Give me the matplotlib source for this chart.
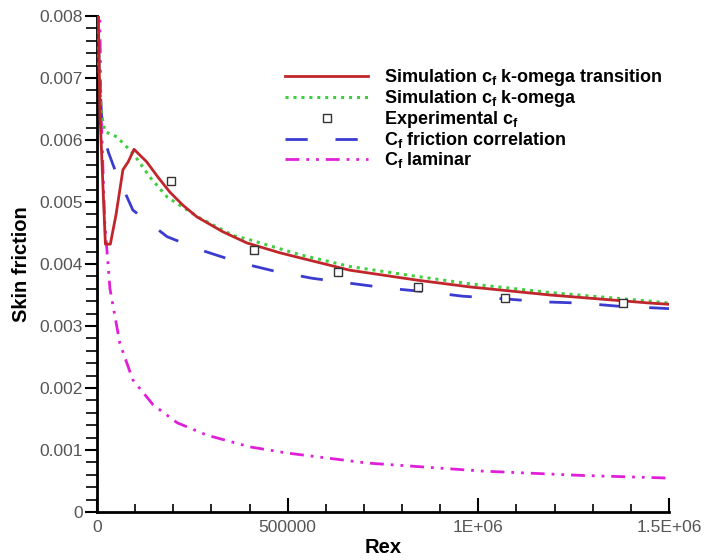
"""
Skin friction vs Rex: transition model, k-omega, experiment, correlations
"""

import matplotlib
matplotlib.use("Agg")
import matplotlib.pyplot as plt
from matplotlib.ticker import MultipleLocator, FixedLocator

plt.rcParams['font.family'] = ['Liberation Sans', 'DejaVu Sans']
plt.rcParams['mathtext.fontset'] = 'custom'
plt.rcParams['mathtext.rm'] = 'Liberation Sans:bold'
plt.rcParams['mathtext.it'] = 'Liberation Sans:bold'

# Simulation cf, k-omega transition
rex_trans = [2000, 8000, 16000, 22000, 35000, 50000, 68000, 82000, 97000, 130000,
             160000, 191000, 225000, 262000, 330000, 393000, 480000, 532000, 663000,
             839000, 978000, 1188000, 1450000, 1500000]
cf_trans = [0.0085, 0.0064, 0.0052, 0.00432, 0.00432, 0.0048, 0.00552, 0.00565, 0.00585,
            0.00565, 0.0054, 0.00516, 0.00495, 0.00476, 0.00452, 0.00434, 0.00418, 0.0041,
            0.0039, 0.00374, 0.00363, 0.0035, 0.00337, 0.00335]

# Simulation cf, k-omega
rex_kw = [1000, 5000, 12000, 21000, 35000, 52000, 94000, 139000, 184000, 270000, 357000,
          401000, 532000, 663000, 839000, 978000, 1188000, 1450000, 1500000]
cf_kw = [0.0095, 0.0072, 0.0064, 0.00613, 0.0061, 0.00605, 0.00579, 0.0054, 0.00508,
         0.00474, 0.00446, 0.00439, 0.00415, 0.00396, 0.0038, 0.00368, 0.00354, 0.0034, 0.00337]

# Experimental cf
rex_exp = [194000, 412000, 632000, 842000, 1070000, 1380000]
cf_exp = [0.00534, 0.00423, 0.00387, 0.00363, 0.00345, 0.00337]

# Cf friction correlation
rex_corr = [1000, 5000, 12000, 21000, 30000, 47000, 70000, 94000, 184000, 270000, 375000,
            462000, 564000, 663000, 763000, 865000, 960000, 1065000, 1167000, 1267000,
            1366000, 1469000, 1500000]
cf_corr = [0.0095, 0.0072, 0.0064, 0.0060, 0.0058, 0.00552, 0.0052, 0.00487, 0.00444,
           0.00423, 0.00402, 0.00389, 0.00377, 0.00369, 0.00361, 0.00355, 0.00348, 0.00344,
           0.00339, 0.00337, 0.00332, 0.00329, 0.00328]

# Cf laminar
rex_lam = [500, 2000, 5000, 10000, 20000, 34000, 60000, 94000, 147000, 210000, 288000,
           401000, 500000, 708000, 1010000, 1270000, 1485000, 1500000]
cf_lam = [0.03, 0.0148, 0.0094, 0.0066, 0.0047, 0.0036, 0.00272, 0.00213, 0.00173, 0.00144,
          0.00124, 0.00105, 0.00095, 0.00079, 0.00066, 0.00059, 0.00055, 0.00054]

x_ticks = [0, 500000, 1000000, 1500000]
x_labels = ['0', '500000', '1E+06', '1.5E+06']
y_ticks = [0, 0.001, 0.002, 0.003, 0.004, 0.005, 0.006, 0.007, 0.008]
y_labels = ['0', '0.001', '0.002', '0.003', '0.004', '0.005', '0.006', '0.007', '0.008']

fig = plt.figure(figsize=(7.05, 5.6), dpi=100)
ax = fig.add_axes([97 / 705, 48 / 560, 572 / 705, 496 / 560])

ax.plot(rex_trans, cf_trans, color='#c0262c', lw=2.0, zorder=5,
        label=r'Simulation c$_f$ k-omega transition')
ax.plot(rex_kw, cf_kw, color='#3fcf3f', lw=2.2, ls=(0, (1.0, 1.6)), zorder=4,
        label=r'Simulation c$_f$ k-omega')
ax.plot(rex_exp, cf_exp, ls='none', marker='s', ms=5.5, mfc='white', mec='#333333',
        mew=1.0, zorder=6, label=r'Experimental c$_f$')
ax.plot(rex_corr, cf_corr, color='#3b3bd0', lw=2.0, ls=(0, (8, 10)), zorder=3,
        label=r'C$_f$ friction correlation')
ax.plot(rex_lam, cf_lam, color='#e020d8', lw=2.0, ls=(0, (5, 2.5, 1, 2.5, 1, 2.5)), zorder=3,
        label=r'C$_f$ laminar')

ax.set_xlim(0, 1.5e6)
ax.set_ylim(0, 0.008)

ax.xaxis.set_major_locator(FixedLocator(x_ticks))
ax.set_xticklabels(x_labels)
ax.xaxis.set_minor_locator(MultipleLocator(100000))
ax.yaxis.set_major_locator(FixedLocator(y_ticks))
ax.set_yticklabels(y_labels)
ax.yaxis.set_minor_locator(MultipleLocator(0.0002))

ax.tick_params(axis='x', which='major', direction='in', length=10, width=1.5,
               labelsize=12.5, labelcolor='#555555', pad=6)
ax.tick_params(axis='x', which='minor', direction='in', length=6, width=1.2)
ax.tick_params(axis='y', which='major', direction='out', length=9, width=1.5,
               labelsize=12.5, labelcolor='#555555', pad=1)
ax.tick_params(axis='y', which='minor', direction='out', length=8, width=1.2)

for side in ['top', 'right']:
    ax.spines[side].set_visible(False)
for side in ['left', 'bottom']:
    ax.spines[side].set_linewidth(2.0)

ax.set_xlabel('Rex', fontsize=14.5, fontweight='bold', labelpad=2)
ax.set_ylabel('Skin friction', fontsize=14.5, fontweight='bold', labelpad=6)

leg = ax.legend(loc='upper left', bbox_to_anchor=(172 / 572, (544 - 62 - 21) / 496),
                frameon=False, handlelength=4.6, handletextpad=0.85, labelspacing=0.0,
                prop={'family': 'Liberation Sans', 'weight': 'bold', 'size': 13})

fig.savefig('out.png', dpi=100)
plt.close(fig)
